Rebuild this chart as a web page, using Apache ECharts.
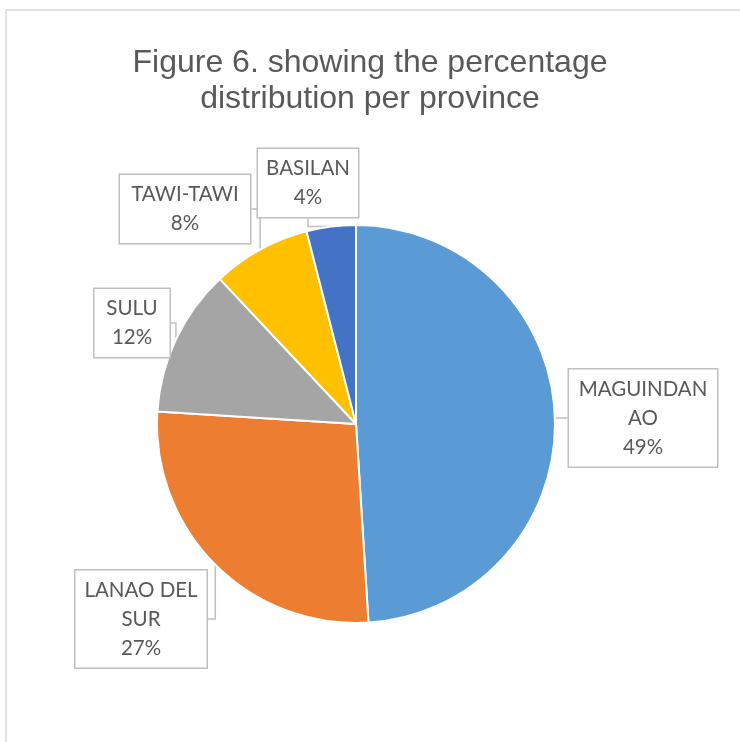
<!DOCTYPE html>
<html>
<head>
<meta charset="utf-8">
<script src="https://cdn.jsdelivr.net/npm/echarts@6/dist/echarts.min.js"></script>
<style>
  html, body { margin: 0; padding: 0; background: #fff; }
  #chart { width: 740px; height: 742px; }
</style>
</head>
<body>
<div id="chart"></div>
<script>
// provinces, clockwise from 12 o'clock
const provinces = ['MAGUINDANAO', 'LANAO DEL SUR', 'SULU', 'TAWI-TAWI', 'BASILAN'];
const labelNames = ['MAGUINDAN\nAO', 'LANAO DEL\nSUR', 'SULU', 'TAWI-TAWI', 'BASILAN'];
const shares = [49, 27, 12, 8, 4];
const colors = ['#5B9BD5', '#ED7D31', '#A5A5A5', '#FFC000', '#4472C4'];

// callout box centre + width for each label
const boxes = [
  { x: 643, y: 418, w: 148 },
  { x: 141, y: 619, w: 131 },
  { x: 132, y: 323, w: 75 },
  { x: 185, y: 209, w: 130 },
  { x: 308, y: 183, w: 100 }
];

const chart = echarts.init(document.getElementById('chart'));

const option = {
  animation: false,
  color: colors,
  title: {
    text: 'Figure 6. showing the percentage\ndistribution per province',
    left: 'center',
    top: 40,
    textStyle: {
      fontFamily: 'Liberation Sans',
      fontSize: 32,
      fontWeight: 'normal',
      lineHeight: 36,
      color: '#595959'
    }
  },
  graphic: [{
    type: 'rect',
    shape: { x: 6, y: 10, width: 900, height: 900 },
    style: { fill: 'none', stroke: '#d9d9d9', lineWidth: 1.5 },
    silent: true
  }],
  series: [{
    type: 'pie',
    center: [356, 424],
    radius: 199,
    startAngle: 90,
    clockwise: true,
    itemStyle: { borderColor: '#fff', borderWidth: 2 },
    data: provinces.map((name, i) => ({
      name: name,
      value: shares[i],
      label: { width: boxes[i].w }
    })),
    label: {
      show: true,
      formatter: p => labelNames[p.dataIndex] + '\n' + p.value + '%',
      fontFamily: 'Lato',
      fontSize: 20.5,
      lineHeight: 29,
      color: '#595959',
      align: 'center',
      backgroundColor: '#fff',
      borderColor: '#bfbfbf',
      borderWidth: 1.5,
      padding: [5, 0]
    },
    labelLine: {
      show: true,
      lineStyle: { color: '#bfbfbf', width: 1.5 }
    },
    labelLayout: p => ({
      x: boxes[p.dataIndex].x,
      y: boxes[p.dataIndex].y,
      align: 'center',
      verticalAlign: 'middle'
    })
  }]
};

chart.setOption(option);
</script>
</body>
</html>
